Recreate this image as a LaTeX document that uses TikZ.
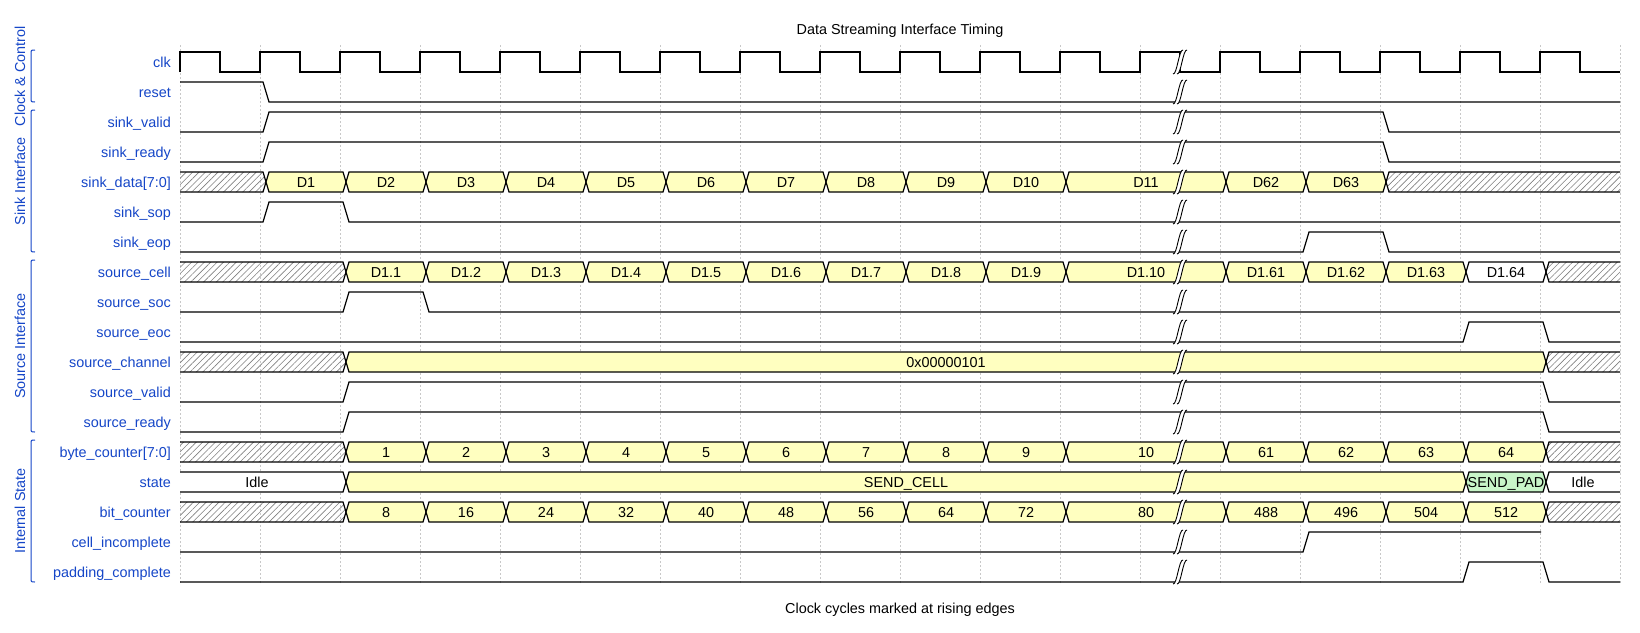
\documentclass[tikz,border=0pt]{standalone}
\usepackage{fontspec}
\setmainfont{Liberation Sans}
\usetikzlibrary{patterns.meta}
\definecolor{waveink}{HTML}{000000}
\definecolor{labelblue}{HTML}{1546C8}
\definecolor{gridgray}{HTML}{C8C8C8}
\definecolor{busyellow}{HTML}{FFFFC0}
\definecolor{padgreen}{HTML}{C8F5C8}
\definecolor{hatchgray}{HTML}{808080}

% bus value between two rising edges: row, from, to, fill style, text
\newcommand{\busval}[5]{%
  \pgfmathtruncatemacro\segx{#2}%
  \path[#4, wave] (#2+6,#1) -- (#2+9,#1-10) -- (#3+3,#1-10) -- (#3+6,#1)
    -- (#3+3,#1+10) -- (#2+9,#1+10) -- cycle;
  \node[buslabel] (v#1x\segx) at ({(#2+#3)/2+6},#1+5) {#5};%
}
% bus value that starts at the left edge of the plot: row, to, fill style, text
\newcommand{\busfirst}[4]{%
  \path[#3] (180,#1-10) -- (#2+3,#1-10) -- (#2+6,#1) -- (#2+3,#1+10) -- (180,#1+10) -- cycle;
  \draw[wave] (180,#1-10) -- (#2+3,#1-10) -- (#2+6,#1) -- (#2+3,#1+10) -- (180,#1+10);
  \node[buslabel] (vf#1) at ({(180+#2)/2-3},#1+5) {#4};%
}
% bus value that runs to the right edge of the plot: row, from, fill style, text
\newcommand{\buslast}[4]{%
  \path[#3] (1620,#1-10) -- (#2+9,#1-10) -- (#2+6,#1) -- (#2+9,#1+10) -- (1620,#1+10) -- cycle;
  \draw[wave] (1620,#1-10) -- (#2+9,#1-10) -- (#2+6,#1) -- (#2+9,#1+10) -- (1620,#1+10);
  \node[buslabel] (vl#1) at ({(1620+#2)/2+3},#1+5) {#4};%
}
% time break mark on one row
\newcommand{\wavebreak}[1]{%
  \fill[white] (1173,#1+12) .. controls (1177,#1+13) and (1179,#1-13) .. (1183,#1-12)
    -- (1187,#1-12) .. controls (1183,#1-13) and (1181,#1+13) .. (1177,#1+12) -- cycle;
  \draw[cutline] (1173,#1+12) .. controls (1177,#1+13) and (1179,#1-13) .. (1183,#1-12);
  \draw[cutline] (1177,#1+12) .. controls (1181,#1+13) and (1183,#1-13) .. (1187,#1-12);%
}

\begin{document}
\begin{tikzpicture}[
  x=1pt,
  y=-1pt,
  every node/.style={font=\fontsize{14.4}{16}\selectfont, waveink},
  wave/.style={draw=waveink, line width=1.2pt},
  guide/.style={gridgray, line width=0.8pt, dash pattern=on 2pt off 2pt},
  cutline/.style={waveink, line width=0.9pt},
  bracket/.style={labelblue, line width=1pt},
  hatch/.style={pattern={Lines[angle=45,distance=4.5pt,line width=0.6pt]}, pattern color=hatchgray},
  yellowbox/.style={fill=busyellow},
  greenbox/.style={fill=padgreen},
  whitebox/.style={fill=white},
  buslabel/.style={anchor=base, inner sep=0pt},
  siglabel/.style={anchor=base east, inner sep=0pt, labelblue},
  grouplabel/.style={anchor=base, rotate=90, inner sep=0pt, labelblue}
]
  \useasboundingbox (0,0) rectangle (1640,632);
  \fill[white] (0,0) rectangle (1640,632);

  % ---- title and footer ----
  \node[anchor=base] (title) at (900,34) {Data Streaming Interface Timing};
  \node[anchor=base] (footer) at (900,613) {Clock cycles marked at rising edges};

  % ---- grid at the rising edges ----
  \foreach \t in {180,260,...,1620}
    \draw[guide] (\t,45) -- (\t,583);

  % ---- signal names ----
  \foreach \name [count=\k from 0] in {clk, reset, sink\_valid, sink\_ready,
      sink\_data[7:0], sink\_sop, sink\_eop, source\_cell, source\_soc,
      source\_eoc, source\_channel, source\_valid, source\_ready,
      byte\_counter[7:0], state, bit\_counter, cell\_incomplete,
      padding\_complete}
    \node[siglabel] (lbl-\k) at (171,{67+30*\k}) {\name};

  % ---- groups ----
  \foreach \top/\bot/\grp in {50/102/Clock \& Control, 110/252/Sink Interface,
      260/432/Source Interface, 440/582/Internal State} {
    \draw[bracket] (35,\top) .. controls (31,\top) .. (31,\top+4) -- (31,\bot-4)
      .. controls (31,\bot) .. (35,\bot);
    \node[grouplabel] (grp-\top) at (25,{(\top+\bot)/2}) {\grp};
  }

  % ---- clock ----
  \draw[wave] (180,72) \foreach \t in {180,260,...,1540}
    { -- (\t,72) -- (\t,52) -- (\t+40,52) -- (\t+40,72) } -- (1620,72);

  % ---- single-bit signals ----
  \draw[wave] (180,82) -- (263,82) -- (269,102) -- (1620,102);
  \draw[wave] (180,132) -- (263,132) -- (269,112) -- (1383,112) -- (1389,132) -- (1620,132);
  \draw[wave] (180,162) -- (263,162) -- (269,142) -- (1383,142) -- (1389,162) -- (1620,162);
  \draw[wave] (180,222) -- (263,222) -- (269,202) -- (343,202) -- (349,222) -- (1620,222);
  \draw[wave] (180,252) -- (1303,252) -- (1309,232) -- (1383,232) -- (1389,252) -- (1620,252);
  \draw[wave] (180,312) -- (343,312) -- (349,292) -- (423,292) -- (429,312) -- (1620,312);
  \draw[wave] (180,342) -- (1463,342) -- (1469,322) -- (1543,322) -- (1549,342) -- (1620,342);
  \draw[wave] (180,402) -- (343,402) -- (349,382) -- (1543,382) -- (1549,402) -- (1620,402);
  \draw[wave] (180,432) -- (343,432) -- (349,412) -- (1543,412) -- (1549,432) -- (1620,432);
  \draw[wave] (180,552) -- (1303,552) -- (1309,532) -- (1541,532);
  \draw[wave] (180,582) -- (1463,582) -- (1469,562) -- (1543,562) -- (1549,582) -- (1620,582);

  % ---- sink_data ----
  \busfirst{182}{260}{hatch}{}
  \foreach \i in {1,...,10}
    {\busval{182}{180+80*\i}{260+80*\i}{yellowbox}{D\i}}
  \busval{182}{1060}{1220}{yellowbox}{D11}
  \busval{182}{1220}{1300}{yellowbox}{D62}
  \busval{182}{1300}{1380}{yellowbox}{D63}
  \buslast{182}{1380}{hatch}{}

  % ---- source_cell ----
  \busfirst{272}{340}{hatch}{}
  \foreach \i in {1,...,9}
    {\busval{272}{260+80*\i}{340+80*\i}{yellowbox}{D1.\i}}
  \busval{272}{1060}{1220}{yellowbox}{D1.10}
  \foreach \v [count=\j from 0] in {61,62,63}
    {\busval{272}{1220+80*\j}{1300+80*\j}{yellowbox}{D1.\v}}
  \busval{272}{1460}{1540}{whitebox}{D1.64}
  \buslast{272}{1540}{hatch}{}

  % ---- source_channel ----
  \busfirst{362}{340}{hatch}{}
  \busval{362}{340}{1540}{yellowbox}{0x00000101}
  \buslast{362}{1540}{hatch}{}

  % ---- byte_counter ----
  \busfirst{452}{340}{hatch}{}
  \foreach \i in {1,...,9}
    {\busval{452}{260+80*\i}{340+80*\i}{yellowbox}{\i}}
  \busval{452}{1060}{1220}{yellowbox}{10}
  \foreach \v [count=\j from 0] in {61,62,63,64}
    {\busval{452}{1220+80*\j}{1300+80*\j}{yellowbox}{\v}}
  \buslast{452}{1540}{hatch}{}

  % ---- state ----
  \busfirst{482}{340}{whitebox}{Idle}
  \busval{482}{340}{1460}{yellowbox}{SEND\_CELL}
  \busval{482}{1460}{1540}{greenbox}{SEND\_PAD}
  \buslast{482}{1540}{whitebox}{Idle}

  % ---- bit_counter ----
  \busfirst{512}{340}{hatch}{}
  \foreach \i [evaluate=\i as \b using int(8*\i)] in {1,...,9}
    {\busval{512}{260+80*\i}{340+80*\i}{yellowbox}{\b}}
  \busval{512}{1060}{1220}{yellowbox}{80}
  \foreach \v [count=\j from 0] in {488,496,504,512}
    {\busval{512}{1220+80*\j}{1300+80*\j}{yellowbox}{\v}}
  \buslast{512}{1540}{hatch}{}

  % ---- time break (drawn last, over every row) ----
  \foreach \r in {62,92,...,572}
    {\wavebreak{\r}}
\end{tikzpicture}
\end{document}
